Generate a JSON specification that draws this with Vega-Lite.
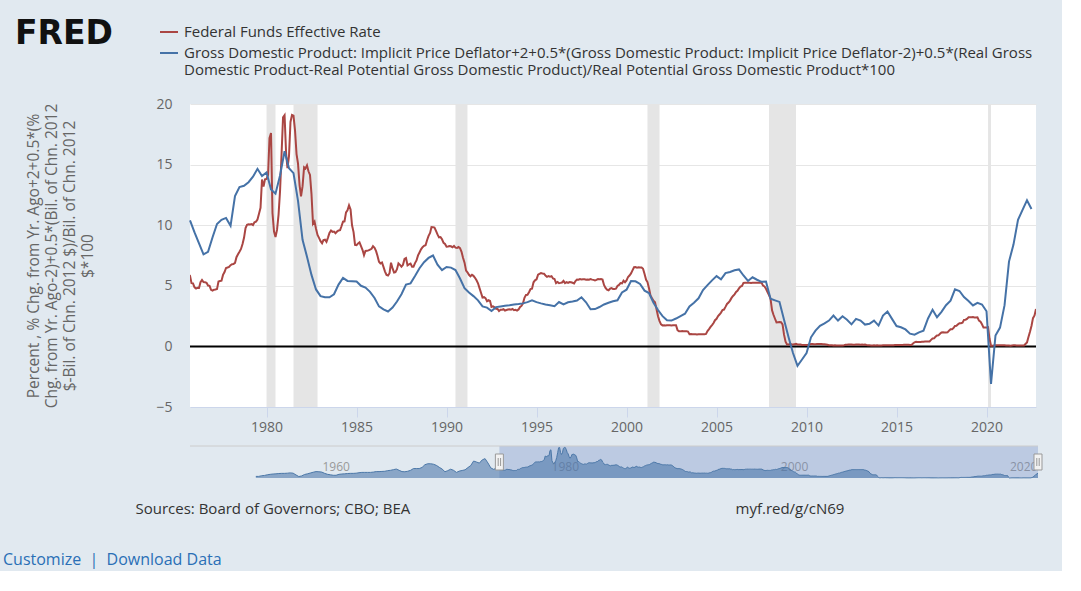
{
"$schema": "https://vega.github.io/schema/vega-lite/v6.json",
"background": "#e1e9f0",
"padding": {"left": 3, "top": 18, "right": 18, "bottom": 3},
"config": {"font": "Open Sans", "view": {"stroke": null}},
"datasets": {
"recessions": [
{"start":"1980-01-01","end":"1980-07-01"},
{"start":"1981-07-01","end":"1982-11-01"},
{"start":"1990-07-01","end":"1991-03-01"},
{"start":"2001-03-01","end":"2001-11-01"},
{"start":"2007-12-01","end":"2009-06-01"},
{"start":"2020-02-01","end":"2020-04-01"}
],
"gdprule": [
{"date":"1975-10-01","value":10.4},{"date":"1976-01-01","value":9.4},{"date":"1976-04-01","value":8.5},{"date":"1976-07-01","value":7.6},{"date":"1976-10-01","value":7.8},
{"date":"1977-01-01","value":9.0},{"date":"1977-04-01","value":10.1},{"date":"1977-07-01","value":10.45},{"date":"1977-10-01","value":10.6},
{"date":"1978-01-01","value":9.95},{"date":"1978-04-01","value":12.4},{"date":"1978-07-01","value":13.15},{"date":"1978-10-01","value":13.25},
{"date":"1979-01-01","value":13.55},{"date":"1979-04-01","value":14.0},{"date":"1979-07-01","value":14.65},{"date":"1979-10-01","value":14.05},
{"date":"1980-01-01","value":14.35},{"date":"1980-04-01","value":12.95},{"date":"1980-07-01","value":12.6},{"date":"1980-10-01","value":14.1},
{"date":"1981-01-01","value":16.1},{"date":"1981-04-01","value":14.7},{"date":"1981-07-01","value":14.3},{"date":"1981-10-01","value":12.0},
{"date":"1982-01-01","value":8.8},{"date":"1982-04-01","value":7.4},{"date":"1982-07-01","value":5.9},{"date":"1982-10-01","value":4.7},
{"date":"1983-01-01","value":4.15},{"date":"1983-04-01","value":4.05},{"date":"1983-07-01","value":4.05},{"date":"1983-10-01","value":4.3},
{"date":"1984-01-01","value":5.1},{"date":"1984-04-01","value":5.65},{"date":"1984-07-01","value":5.4},{"date":"1984-10-01","value":5.38},
{"date":"1985-01-01","value":5.35},{"date":"1985-04-01","value":5.0},{"date":"1985-07-01","value":4.85},{"date":"1985-10-01","value":4.5},
{"date":"1986-01-01","value":4.0},{"date":"1986-04-01","value":3.3},{"date":"1986-07-01","value":3.05},{"date":"1986-10-01","value":2.88},
{"date":"1987-01-01","value":3.2},{"date":"1987-04-01","value":3.7},{"date":"1987-07-01","value":4.3},{"date":"1987-10-01","value":5.1},
{"date":"1988-01-01","value":5.2},{"date":"1988-04-01","value":5.8},{"date":"1988-07-01","value":6.45},{"date":"1988-10-01","value":6.95},
{"date":"1989-01-01","value":7.3},{"date":"1989-04-01","value":7.5},{"date":"1989-07-01","value":6.75},{"date":"1989-10-01","value":6.3},
{"date":"1990-01-01","value":6.55},{"date":"1990-04-01","value":6.5},{"date":"1990-07-01","value":6.3},{"date":"1990-10-01","value":5.6},
{"date":"1991-01-01","value":4.8},{"date":"1991-04-01","value":4.45},{"date":"1991-07-01","value":4.15},{"date":"1991-10-01","value":3.8},
{"date":"1992-01-01","value":3.3},{"date":"1992-04-01","value":3.2},{"date":"1992-07-01","value":2.92},{"date":"1992-10-01","value":3.24},
{"date":"1993-01-01","value":3.3},{"date":"1993-04-01","value":3.35},{"date":"1993-07-01","value":3.4},{"date":"1993-10-01","value":3.46},
{"date":"1994-01-01","value":3.5},{"date":"1994-04-01","value":3.55},{"date":"1994-07-01","value":3.65},{"date":"1994-10-01","value":3.8},
{"date":"1995-01-01","value":3.65},{"date":"1995-04-01","value":3.55},{"date":"1995-07-01","value":3.46},{"date":"1995-10-01","value":3.4},
{"date":"1996-01-01","value":3.32},{"date":"1996-04-01","value":3.66},{"date":"1996-07-01","value":3.46},{"date":"1996-10-01","value":3.64},
{"date":"1997-01-01","value":3.7},{"date":"1997-04-01","value":3.78},{"date":"1997-07-01","value":4.05},{"date":"1997-10-01","value":3.64},
{"date":"1998-01-01","value":3.06},{"date":"1998-04-01","value":3.08},{"date":"1998-07-01","value":3.25},{"date":"1998-10-01","value":3.46},
{"date":"1999-01-01","value":3.6},{"date":"1999-04-01","value":3.72},{"date":"1999-07-01","value":3.8},{"date":"1999-10-01","value":4.45},
{"date":"2000-01-01","value":4.68},{"date":"2000-04-01","value":5.4},{"date":"2000-07-01","value":5.37},{"date":"2000-10-01","value":5.15},
{"date":"2001-01-01","value":4.6},{"date":"2001-04-01","value":4.4},{"date":"2001-07-01","value":3.6},{"date":"2001-10-01","value":3.0},
{"date":"2002-01-01","value":2.5},{"date":"2002-04-01","value":2.15},{"date":"2002-07-01","value":2.13},{"date":"2002-10-01","value":2.3},
{"date":"2003-01-01","value":2.5},{"date":"2003-04-01","value":2.7},{"date":"2003-07-01","value":3.3},{"date":"2003-10-01","value":3.6},
{"date":"2004-01-01","value":3.97},{"date":"2004-04-01","value":4.65},{"date":"2004-07-01","value":5.05},{"date":"2004-10-01","value":5.45},
{"date":"2005-01-01","value":5.8},{"date":"2005-04-01","value":5.54},{"date":"2005-07-01","value":6.05},{"date":"2005-10-01","value":6.14},
{"date":"2006-01-01","value":6.28},{"date":"2006-04-01","value":6.35},{"date":"2006-07-01","value":5.85},{"date":"2006-10-01","value":5.4},
{"date":"2007-01-01","value":5.7},{"date":"2007-04-01","value":5.5},{"date":"2007-07-01","value":5.33},{"date":"2007-10-01","value":5.35},
{"date":"2008-01-01","value":3.93},{"date":"2008-04-01","value":3.8},{"date":"2008-07-01","value":3.67},{"date":"2008-10-01","value":2.2},
{"date":"2009-01-01","value":0.75},{"date":"2009-04-01","value":-0.55},{"date":"2009-07-01","value":-1.6},{"date":"2009-10-01","value":-1.08},
{"date":"2010-01-01","value":-0.55},{"date":"2010-04-01","value":0.75},{"date":"2010-07-01","value":1.3},{"date":"2010-10-01","value":1.7},
{"date":"2011-01-01","value":1.9},{"date":"2011-04-01","value":2.13},{"date":"2011-07-01","value":2.55},{"date":"2011-10-01","value":2.13},
{"date":"2012-01-01","value":2.49},{"date":"2012-04-01","value":2.2},{"date":"2012-07-01","value":1.82},{"date":"2012-10-01","value":2.27},
{"date":"2013-01-01","value":2.13},{"date":"2013-04-01","value":1.8},{"date":"2013-07-01","value":1.86},{"date":"2013-10-01","value":2.13},
{"date":"2014-01-01","value":1.72},{"date":"2014-04-01","value":2.55},{"date":"2014-07-01","value":2.88},{"date":"2014-10-01","value":2.27},
{"date":"2015-01-01","value":1.68},{"date":"2015-04-01","value":1.58},{"date":"2015-07-01","value":1.4},{"date":"2015-10-01","value":1.05},
{"date":"2016-01-01","value":0.97},{"date":"2016-04-01","value":1.16},{"date":"2016-07-01","value":1.3},{"date":"2016-10-01","value":2.3},
{"date":"2017-01-01","value":3.02},{"date":"2017-04-01","value":2.41},{"date":"2017-07-01","value":2.85},{"date":"2017-10-01","value":3.4},
{"date":"2018-01-01","value":3.78},{"date":"2018-04-01","value":4.71},{"date":"2018-07-01","value":4.57},{"date":"2018-10-01","value":4.07},
{"date":"2019-01-01","value":3.75},{"date":"2019-04-01","value":3.38},{"date":"2019-07-01","value":3.6},{"date":"2019-10-01","value":3.46},
{"date":"2020-01-01","value":2.9},{"date":"2020-04-01","value":-3.1},{"date":"2020-07-01","value":0.9},{"date":"2020-10-01","value":1.55},
{"date":"2021-01-01","value":3.4},{"date":"2021-04-01","value":7.0},{"date":"2021-07-01","value":8.4},{"date":"2021-10-01","value":10.45},
{"date":"2022-01-01","value":11.27},{"date":"2022-04-01","value":12.05},{"date":"2022-07-01","value":11.33}
],
"fedfunds": [
{"date":"1954-07-01","value":1.0},{"date":"1954-10-01","value":1.0},
{"date":"1955-01-01","value":1.4},{"date":"1955-04-01","value":1.6},{"date":"1955-07-01","value":2.0},{"date":"1955-10-01","value":2.3},
{"date":"1956-01-01","value":2.5},{"date":"1956-04-01","value":2.6},{"date":"1956-07-01","value":2.8},{"date":"1956-10-01","value":2.9},
{"date":"1957-01-01","value":2.9},{"date":"1957-04-01","value":3.0},{"date":"1957-07-01","value":3.2},{"date":"1957-10-01","value":3.0},
{"date":"1958-01-01","value":1.9},{"date":"1958-04-01","value":0.9},{"date":"1958-07-01","value":1.3},{"date":"1958-10-01","value":2.2},
{"date":"1959-01-01","value":2.6},{"date":"1959-04-01","value":3.1},{"date":"1959-07-01","value":3.6},{"date":"1959-10-01","value":4.0},
{"date":"1960-01-01","value":3.9},{"date":"1960-04-01","value":3.7},{"date":"1960-07-01","value":2.9},{"date":"1960-10-01","value":2.3},
{"date":"1961-01-01","value":2.0},{"date":"1961-04-01","value":1.7},{"date":"1961-07-01","value":1.7},{"date":"1961-10-01","value":2.3},
{"date":"1962-01-01","value":2.5},{"date":"1962-04-01","value":2.6},{"date":"1962-07-01","value":2.8},{"date":"1962-10-01","value":2.9},
{"date":"1963-01-01","value":2.9},{"date":"1963-04-01","value":3.0},{"date":"1963-07-01","value":3.3},{"date":"1963-10-01","value":3.5},
{"date":"1964-01-01","value":3.5},{"date":"1964-04-01","value":3.5},{"date":"1964-07-01","value":3.5},{"date":"1964-10-01","value":3.7},
{"date":"1965-01-01","value":4.0},{"date":"1965-04-01","value":4.0},{"date":"1965-07-01","value":4.1},{"date":"1965-10-01","value":4.2},
{"date":"1966-01-01","value":4.6},{"date":"1966-04-01","value":4.8},{"date":"1966-07-01","value":5.2},{"date":"1966-10-01","value":5.6},
{"date":"1967-01-01","value":4.8},{"date":"1967-04-01","value":4.0},{"date":"1967-07-01","value":3.9},{"date":"1967-10-01","value":4.2},
{"date":"1968-01-01","value":4.8},{"date":"1968-04-01","value":5.9},{"date":"1968-07-01","value":5.9},{"date":"1968-10-01","value":5.9},
{"date":"1969-01-01","value":6.6},{"date":"1969-04-01","value":8.3},{"date":"1969-07-01","value":8.9},{"date":"1969-10-01","value":8.9},
{"date":"1970-01-01","value":8.6},{"date":"1970-04-01","value":7.9},{"date":"1970-07-01","value":6.7},{"date":"1970-10-01","value":5.6},
{"date":"1971-01-01","value":3.9},{"date":"1971-04-01","value":4.6},{"date":"1971-07-01","value":5.5},{"date":"1971-10-01","value":4.8},
{"date":"1972-01-01","value":3.5},{"date":"1972-04-01","value":4.3},{"date":"1972-07-01","value":4.7},{"date":"1972-10-01","value":5.1},
{"date":"1973-01-01","value":6.5},{"date":"1973-04-01","value":7.8},{"date":"1973-07-01","value":10.6},{"date":"1973-10-01","value":10.0},
{"date":"1974-01-01","value":9.3},{"date":"1974-04-01","value":11.3},{"date":"1974-07-01","value":12.1},{"date":"1974-10-01","value":9.4},
{"date":"1975-01-01","value":6.3},{"date":"1975-04-01","value":5.4},{"date":"1975-07-01","value":6.2},
{"date":"1975-10-01","value":5.82},{"date":"1975-11-01","value":5.22},{"date":"1975-12-01","value":5.20},
{"date":"1976-01-01","value":4.87},{"date":"1976-02-01","value":4.77},{"date":"1976-03-01","value":4.84},{"date":"1976-04-01","value":4.82},{"date":"1976-05-01","value":5.29},{"date":"1976-06-01","value":5.48},{"date":"1976-07-01","value":5.31},{"date":"1976-08-01","value":5.29},{"date":"1976-09-01","value":5.25},{"date":"1976-10-01","value":5.02},{"date":"1976-11-01","value":5.00},{"date":"1976-12-01","value":4.67},
{"date":"1977-01-01","value":4.61},{"date":"1977-02-01","value":4.68},{"date":"1977-03-01","value":4.69},{"date":"1977-04-01","value":4.73},{"date":"1977-05-01","value":5.35},{"date":"1977-06-01","value":5.39},{"date":"1977-07-01","value":5.42},{"date":"1977-08-01","value":5.90},{"date":"1977-09-01","value":6.14},{"date":"1977-10-01","value":6.47},{"date":"1977-11-01","value":6.51},{"date":"1977-12-01","value":6.56},
{"date":"1978-01-01","value":6.70},{"date":"1978-02-01","value":6.78},{"date":"1978-03-01","value":6.79},{"date":"1978-04-01","value":6.89},{"date":"1978-05-01","value":7.36},{"date":"1978-06-01","value":7.60},{"date":"1978-07-01","value":7.81},{"date":"1978-08-01","value":8.04},{"date":"1978-09-01","value":8.45},{"date":"1978-10-01","value":8.96},{"date":"1978-11-01","value":9.76},{"date":"1978-12-01","value":10.03},
{"date":"1979-01-01","value":10.07},{"date":"1979-02-01","value":10.06},{"date":"1979-03-01","value":10.09},{"date":"1979-04-01","value":10.01},{"date":"1979-05-01","value":10.24},{"date":"1979-06-01","value":10.29},{"date":"1979-07-01","value":10.47},{"date":"1979-08-01","value":10.94},{"date":"1979-09-01","value":11.43},{"date":"1979-10-01","value":13.77},{"date":"1979-11-01","value":13.18},{"date":"1979-12-01","value":13.78},
{"date":"1980-01-01","value":13.82},{"date":"1980-02-01","value":14.13},{"date":"1980-03-01","value":17.19},{"date":"1980-04-01","value":17.61},{"date":"1980-05-01","value":10.98},{"date":"1980-06-01","value":9.47},{"date":"1980-07-01","value":9.03},{"date":"1980-08-01","value":9.61},{"date":"1980-09-01","value":10.87},{"date":"1980-10-01","value":12.81},{"date":"1980-11-01","value":15.85},{"date":"1980-12-01","value":18.90},
{"date":"1981-01-01","value":19.08},{"date":"1981-02-01","value":15.93},{"date":"1981-03-01","value":14.70},{"date":"1981-04-01","value":15.72},{"date":"1981-05-01","value":18.52},{"date":"1981-06-01","value":19.10},{"date":"1981-07-01","value":19.04},{"date":"1981-08-01","value":17.82},{"date":"1981-09-01","value":15.87},{"date":"1981-10-01","value":15.08},{"date":"1981-11-01","value":13.31},{"date":"1981-12-01","value":12.37},
{"date":"1982-01-01","value":13.22},{"date":"1982-02-01","value":14.78},{"date":"1982-03-01","value":14.68},{"date":"1982-04-01","value":14.94},{"date":"1982-05-01","value":14.45},{"date":"1982-06-01","value":14.15},{"date":"1982-07-01","value":12.59},{"date":"1982-08-01","value":10.12},{"date":"1982-09-01","value":10.31},{"date":"1982-10-01","value":9.71},{"date":"1982-11-01","value":9.20},{"date":"1982-12-01","value":8.95},
{"date":"1983-01-01","value":8.68},{"date":"1983-02-01","value":8.51},{"date":"1983-03-01","value":8.77},{"date":"1983-04-01","value":8.80},{"date":"1983-05-01","value":8.63},{"date":"1983-06-01","value":8.98},{"date":"1983-07-01","value":9.37},{"date":"1983-08-01","value":9.56},{"date":"1983-09-01","value":9.45},{"date":"1983-10-01","value":9.48},{"date":"1983-11-01","value":9.34},{"date":"1983-12-01","value":9.47},
{"date":"1984-01-01","value":9.56},{"date":"1984-02-01","value":9.59},{"date":"1984-03-01","value":9.91},{"date":"1984-04-01","value":10.29},{"date":"1984-05-01","value":10.32},{"date":"1984-06-01","value":11.06},{"date":"1984-07-01","value":11.23},{"date":"1984-08-01","value":11.64},{"date":"1984-09-01","value":11.30},{"date":"1984-10-01","value":9.99},{"date":"1984-11-01","value":9.43},{"date":"1984-12-01","value":8.38},
{"date":"1985-01-01","value":8.35},{"date":"1985-02-01","value":8.50},{"date":"1985-03-01","value":8.58},{"date":"1985-04-01","value":8.27},{"date":"1985-05-01","value":7.97},{"date":"1985-06-01","value":7.53},{"date":"1985-07-01","value":7.88},{"date":"1985-08-01","value":7.90},{"date":"1985-09-01","value":7.92},{"date":"1985-10-01","value":7.99},{"date":"1985-11-01","value":8.05},{"date":"1985-12-01","value":8.27},
{"date":"1986-01-01","value":8.14},{"date":"1986-02-01","value":7.86},{"date":"1986-03-01","value":7.48},{"date":"1986-04-01","value":6.99},{"date":"1986-05-01","value":6.85},{"date":"1986-06-01","value":6.92},{"date":"1986-07-01","value":6.56},{"date":"1986-08-01","value":6.17},{"date":"1986-09-01","value":5.89},{"date":"1986-10-01","value":5.85},{"date":"1986-11-01","value":6.04},{"date":"1986-12-01","value":6.91},
{"date":"1987-01-01","value":6.43},{"date":"1987-02-01","value":6.10},{"date":"1987-03-01","value":6.13},{"date":"1987-04-01","value":6.37},{"date":"1987-05-01","value":6.85},{"date":"1987-06-01","value":6.73},{"date":"1987-07-01","value":6.58},{"date":"1987-08-01","value":6.73},{"date":"1987-09-01","value":7.22},{"date":"1987-10-01","value":7.29},{"date":"1987-11-01","value":6.69},{"date":"1987-12-01","value":6.77},
{"date":"1988-01-01","value":6.83},{"date":"1988-02-01","value":6.58},{"date":"1988-03-01","value":6.58},{"date":"1988-04-01","value":6.87},{"date":"1988-05-01","value":7.09},{"date":"1988-06-01","value":7.51},{"date":"1988-07-01","value":7.75},{"date":"1988-08-01","value":8.01},{"date":"1988-09-01","value":8.19},{"date":"1988-10-01","value":8.30},{"date":"1988-11-01","value":8.35},{"date":"1988-12-01","value":8.76},
{"date":"1989-01-01","value":9.12},{"date":"1989-02-01","value":9.36},{"date":"1989-03-01","value":9.85},{"date":"1989-04-01","value":9.84},{"date":"1989-05-01","value":9.81},{"date":"1989-06-01","value":9.53},{"date":"1989-07-01","value":9.24},{"date":"1989-08-01","value":8.99},{"date":"1989-09-01","value":9.02},{"date":"1989-10-01","value":8.84},{"date":"1989-11-01","value":8.55},{"date":"1989-12-01","value":8.45},
{"date":"1990-01-01","value":8.23},{"date":"1990-02-01","value":8.24},{"date":"1990-03-01","value":8.28},{"date":"1990-04-01","value":8.26},{"date":"1990-05-01","value":8.18},{"date":"1990-06-01","value":8.29},{"date":"1990-07-01","value":8.15},{"date":"1990-08-01","value":8.13},{"date":"1990-09-01","value":8.20},{"date":"1990-10-01","value":8.11},{"date":"1990-11-01","value":7.81},{"date":"1990-12-01","value":7.31},
{"date":"1991-01-01","value":6.91},{"date":"1991-02-01","value":6.25},{"date":"1991-03-01","value":6.12},{"date":"1991-04-01","value":5.91},{"date":"1991-05-01","value":5.78},{"date":"1991-06-01","value":5.90},{"date":"1991-07-01","value":5.82},{"date":"1991-08-01","value":5.66},{"date":"1991-09-01","value":5.45},{"date":"1991-10-01","value":5.21},{"date":"1991-11-01","value":4.81},{"date":"1991-12-01","value":4.43},
{"date":"1992-01-01","value":4.03},{"date":"1992-02-01","value":4.06},{"date":"1992-03-01","value":3.98},{"date":"1992-04-01","value":3.73},{"date":"1992-05-01","value":3.82},{"date":"1992-06-01","value":3.76},{"date":"1992-07-01","value":3.25},{"date":"1992-08-01","value":3.30},{"date":"1992-09-01","value":3.22},{"date":"1992-10-01","value":3.10},{"date":"1992-11-01","value":3.09},{"date":"1992-12-01","value":2.92},
{"date":"1993-01-01","value":3.02},{"date":"1993-02-01","value":3.03},{"date":"1993-03-01","value":3.07},{"date":"1993-04-01","value":2.96},{"date":"1993-05-01","value":3.00},{"date":"1993-06-01","value":3.04},{"date":"1993-07-01","value":3.06},{"date":"1993-08-01","value":3.03},{"date":"1993-09-01","value":3.09},{"date":"1993-10-01","value":2.99},{"date":"1993-11-01","value":3.02},{"date":"1993-12-01","value":2.96},
{"date":"1994-01-01","value":3.05},{"date":"1994-02-01","value":3.25},{"date":"1994-03-01","value":3.34},{"date":"1994-04-01","value":3.56},{"date":"1994-05-01","value":4.01},{"date":"1994-06-01","value":4.25},{"date":"1994-07-01","value":4.26},{"date":"1994-08-01","value":4.47},{"date":"1994-09-01","value":4.73},{"date":"1994-10-01","value":4.76},{"date":"1994-11-01","value":5.29},{"date":"1994-12-01","value":5.45},
{"date":"1995-01-01","value":5.53},{"date":"1995-02-01","value":5.92},{"date":"1995-03-01","value":5.98},{"date":"1995-04-01","value":6.05},{"date":"1995-05-01","value":6.01},{"date":"1995-06-01","value":6.00},{"date":"1995-07-01","value":5.85},{"date":"1995-08-01","value":5.74},{"date":"1995-09-01","value":5.80},{"date":"1995-10-01","value":5.76},{"date":"1995-11-01","value":5.80},{"date":"1995-12-01","value":5.60},
{"date":"1996-01-01","value":5.56},{"date":"1996-02-01","value":5.22},{"date":"1996-03-01","value":5.31},{"date":"1996-04-01","value":5.22},{"date":"1996-05-01","value":5.24},{"date":"1996-06-01","value":5.27},{"date":"1996-07-01","value":5.40},{"date":"1996-08-01","value":5.22},{"date":"1996-09-01","value":5.30},{"date":"1996-10-01","value":5.24},{"date":"1996-11-01","value":5.31},{"date":"1996-12-01","value":5.29},
{"date":"1997-01-01","value":5.25},{"date":"1997-02-01","value":5.19},{"date":"1997-03-01","value":5.39},{"date":"1997-04-01","value":5.51},{"date":"1997-05-01","value":5.50},{"date":"1997-06-01","value":5.56},{"date":"1997-07-01","value":5.52},{"date":"1997-08-01","value":5.54},{"date":"1997-09-01","value":5.54},{"date":"1997-10-01","value":5.50},{"date":"1997-11-01","value":5.52},{"date":"1997-12-01","value":5.50},
{"date":"1998-01-01","value":5.56},{"date":"1998-02-01","value":5.51},{"date":"1998-03-01","value":5.49},{"date":"1998-04-01","value":5.45},{"date":"1998-05-01","value":5.49},{"date":"1998-06-01","value":5.56},{"date":"1998-07-01","value":5.54},{"date":"1998-08-01","value":5.55},{"date":"1998-09-01","value":5.51},{"date":"1998-10-01","value":5.07},{"date":"1998-11-01","value":4.83},{"date":"1998-12-01","value":4.68},
{"date":"1999-01-01","value":4.63},{"date":"1999-02-01","value":4.76},{"date":"1999-03-01","value":4.81},{"date":"1999-04-01","value":4.74},{"date":"1999-05-01","value":4.74},{"date":"1999-06-01","value":4.76},{"date":"1999-07-01","value":4.99},{"date":"1999-08-01","value":5.07},{"date":"1999-09-01","value":5.22},{"date":"1999-10-01","value":5.20},{"date":"1999-11-01","value":5.42},{"date":"1999-12-01","value":5.30},
{"date":"2000-01-01","value":5.45},{"date":"2000-02-01","value":5.73},{"date":"2000-03-01","value":5.85},{"date":"2000-04-01","value":6.02},{"date":"2000-05-01","value":6.27},{"date":"2000-06-01","value":6.53},{"date":"2000-07-01","value":6.54},{"date":"2000-08-01","value":6.50},{"date":"2000-09-01","value":6.52},{"date":"2000-10-01","value":6.51},{"date":"2000-11-01","value":6.51},{"date":"2000-12-01","value":6.40},
{"date":"2001-01-01","value":5.98},{"date":"2001-02-01","value":5.49},{"date":"2001-03-01","value":5.31},{"date":"2001-04-01","value":4.80},{"date":"2001-05-01","value":4.21},{"date":"2001-06-01","value":3.97},{"date":"2001-07-01","value":3.77},{"date":"2001-08-01","value":3.65},{"date":"2001-09-01","value":3.07},{"date":"2001-10-01","value":2.49},{"date":"2001-11-01","value":2.09},{"date":"2001-12-01","value":1.82},
{"date":"2002-01-01","value":1.73},{"date":"2002-02-01","value":1.74},{"date":"2002-03-01","value":1.73},{"date":"2002-04-01","value":1.75},{"date":"2002-05-01","value":1.75},{"date":"2002-06-01","value":1.75},{"date":"2002-07-01","value":1.73},{"date":"2002-08-01","value":1.74},{"date":"2002-09-01","value":1.75},{"date":"2002-10-01","value":1.75},{"date":"2002-11-01","value":1.34},{"date":"2002-12-01","value":1.24},
{"date":"2003-01-01","value":1.24},{"date":"2003-02-01","value":1.26},{"date":"2003-03-01","value":1.25},{"date":"2003-04-01","value":1.26},{"date":"2003-05-01","value":1.26},{"date":"2003-06-01","value":1.22},{"date":"2003-07-01","value":1.01},{"date":"2003-08-01","value":1.03},{"date":"2003-09-01","value":1.01},{"date":"2003-10-01","value":1.01},{"date":"2003-11-01","value":1.00},{"date":"2003-12-01","value":0.98},
{"date":"2004-01-01","value":1.00},{"date":"2004-02-01","value":1.01},{"date":"2004-03-01","value":1.00},{"date":"2004-04-01","value":1.00},{"date":"2004-05-01","value":1.00},{"date":"2004-06-01","value":1.03},{"date":"2004-07-01","value":1.26},{"date":"2004-08-01","value":1.43},{"date":"2004-09-01","value":1.61},{"date":"2004-10-01","value":1.76},{"date":"2004-11-01","value":1.93},{"date":"2004-12-01","value":2.16},
{"date":"2005-01-01","value":2.28},{"date":"2005-02-01","value":2.50},{"date":"2005-03-01","value":2.63},{"date":"2005-04-01","value":2.79},{"date":"2005-05-01","value":3.00},{"date":"2005-06-01","value":3.04},{"date":"2005-07-01","value":3.26},{"date":"2005-08-01","value":3.50},{"date":"2005-09-01","value":3.62},{"date":"2005-10-01","value":3.78},{"date":"2005-11-01","value":4.00},{"date":"2005-12-01","value":4.16},
{"date":"2006-01-01","value":4.29},{"date":"2006-02-01","value":4.49},{"date":"2006-03-01","value":4.59},{"date":"2006-04-01","value":4.79},{"date":"2006-05-01","value":4.94},{"date":"2006-06-01","value":4.99},{"date":"2006-07-01","value":5.24},{"date":"2006-08-01","value":5.25},{"date":"2006-09-01","value":5.25},{"date":"2006-10-01","value":5.25},{"date":"2006-11-01","value":5.25},{"date":"2006-12-01","value":5.24},
{"date":"2007-01-01","value":5.25},{"date":"2007-02-01","value":5.26},{"date":"2007-03-01","value":5.26},{"date":"2007-04-01","value":5.25},{"date":"2007-05-01","value":5.25},{"date":"2007-06-01","value":5.25},{"date":"2007-07-01","value":5.26},{"date":"2007-08-01","value":5.02},{"date":"2007-09-01","value":4.94},{"date":"2007-10-01","value":4.76},{"date":"2007-11-01","value":4.49},{"date":"2007-12-01","value":4.24},
{"date":"2008-01-01","value":3.94},{"date":"2008-02-01","value":2.98},{"date":"2008-03-01","value":2.61},{"date":"2008-04-01","value":2.28},{"date":"2008-05-01","value":1.98},{"date":"2008-06-01","value":2.00},{"date":"2008-07-01","value":2.01},{"date":"2008-08-01","value":2.00},{"date":"2008-09-01","value":1.81},{"date":"2008-10-01","value":0.97},{"date":"2008-11-01","value":0.39},{"date":"2008-12-01","value":0.16},
{"date":"2009-01-01","value":0.15},{"date":"2009-02-01","value":0.22},{"date":"2009-03-01","value":0.18},{"date":"2009-04-01","value":0.15},{"date":"2009-05-01","value":0.18},{"date":"2009-06-01","value":0.21},{"date":"2009-07-01","value":0.16},{"date":"2009-08-01","value":0.16},{"date":"2009-09-01","value":0.15},{"date":"2009-10-01","value":0.12},{"date":"2009-11-01","value":0.12},{"date":"2009-12-01","value":0.12},
{"date":"2010-01-01","value":0.11},{"date":"2010-02-01","value":0.13},{"date":"2010-03-01","value":0.16},{"date":"2010-04-01","value":0.20},{"date":"2010-05-01","value":0.20},{"date":"2010-06-01","value":0.18},{"date":"2010-07-01","value":0.18},{"date":"2010-08-01","value":0.19},{"date":"2010-09-01","value":0.19},{"date":"2010-10-01","value":0.19},{"date":"2010-11-01","value":0.19},{"date":"2010-12-01","value":0.18},
{"date":"2011-01-01","value":0.17},{"date":"2011-02-01","value":0.16},{"date":"2011-03-01","value":0.14},{"date":"2011-04-01","value":0.10},{"date":"2011-05-01","value":0.09},{"date":"2011-06-01","value":0.09},{"date":"2011-07-01","value":0.07},{"date":"2011-08-01","value":0.10},{"date":"2011-09-01","value":0.08},{"date":"2011-10-01","value":0.07},{"date":"2011-11-01","value":0.08},{"date":"2011-12-01","value":0.07},
{"date":"2012-01-01","value":0.08},{"date":"2012-02-01","value":0.10},{"date":"2012-03-01","value":0.13},{"date":"2012-04-01","value":0.14},{"date":"2012-05-01","value":0.16},{"date":"2012-06-01","value":0.16},{"date":"2012-07-01","value":0.16},{"date":"2012-08-01","value":0.13},{"date":"2012-09-01","value":0.14},{"date":"2012-10-01","value":0.16},{"date":"2012-11-01","value":0.16},{"date":"2012-12-01","value":0.16},
{"date":"2013-01-01","value":0.14},{"date":"2013-02-01","value":0.15},{"date":"2013-03-01","value":0.14},{"date":"2013-04-01","value":0.15},{"date":"2013-05-01","value":0.11},{"date":"2013-06-01","value":0.09},{"date":"2013-07-01","value":0.09},{"date":"2013-08-01","value":0.08},{"date":"2013-09-01","value":0.08},{"date":"2013-10-01","value":0.09},{"date":"2013-11-01","value":0.08},{"date":"2013-12-01","value":0.09},
{"date":"2014-01-01","value":0.07},{"date":"2014-02-01","value":0.07},{"date":"2014-03-01","value":0.08},{"date":"2014-04-01","value":0.09},{"date":"2014-05-01","value":0.09},{"date":"2014-06-01","value":0.10},{"date":"2014-07-01","value":0.09},{"date":"2014-08-01","value":0.09},{"date":"2014-09-01","value":0.09},{"date":"2014-10-01","value":0.09},{"date":"2014-11-01","value":0.09},{"date":"2014-12-01","value":0.12},
{"date":"2015-01-01","value":0.11},{"date":"2015-02-01","value":0.11},{"date":"2015-03-01","value":0.11},{"date":"2015-04-01","value":0.12},{"date":"2015-05-01","value":0.12},{"date":"2015-06-01","value":0.13},{"date":"2015-07-01","value":0.13},{"date":"2015-08-01","value":0.14},{"date":"2015-09-01","value":0.14},{"date":"2015-10-01","value":0.12},{"date":"2015-11-01","value":0.12},{"date":"2015-12-01","value":0.24},
{"date":"2016-01-01","value":0.34},{"date":"2016-02-01","value":0.38},{"date":"2016-03-01","value":0.36},{"date":"2016-04-01","value":0.37},{"date":"2016-05-01","value":0.37},{"date":"2016-06-01","value":0.38},{"date":"2016-07-01","value":0.39},{"date":"2016-08-01","value":0.40},{"date":"2016-09-01","value":0.40},{"date":"2016-10-01","value":0.40},{"date":"2016-11-01","value":0.41},{"date":"2016-12-01","value":0.54},
{"date":"2017-01-01","value":0.65},{"date":"2017-02-01","value":0.66},{"date":"2017-03-01","value":0.79},{"date":"2017-04-01","value":0.90},{"date":"2017-05-01","value":0.91},{"date":"2017-06-01","value":1.04},{"date":"2017-07-01","value":1.15},{"date":"2017-08-01","value":1.16},{"date":"2017-09-01","value":1.15},{"date":"2017-10-01","value":1.15},{"date":"2017-11-01","value":1.16},{"date":"2017-12-01","value":1.30},
{"date":"2018-01-01","value":1.41},{"date":"2018-02-01","value":1.42},{"date":"2018-03-01","value":1.51},{"date":"2018-04-01","value":1.69},{"date":"2018-05-01","value":1.70},{"date":"2018-06-01","value":1.82},{"date":"2018-07-01","value":1.91},{"date":"2018-08-01","value":1.91},{"date":"2018-09-01","value":1.95},{"date":"2018-10-01","value":2.19},{"date":"2018-11-01","value":2.20},{"date":"2018-12-01","value":2.27},
{"date":"2019-01-01","value":2.40},{"date":"2019-02-01","value":2.40},{"date":"2019-03-01","value":2.41},{"date":"2019-04-01","value":2.42},{"date":"2019-05-01","value":2.39},{"date":"2019-06-01","value":2.38},{"date":"2019-07-01","value":2.40},{"date":"2019-08-01","value":2.13},{"date":"2019-09-01","value":2.04},{"date":"2019-10-01","value":1.83},{"date":"2019-11-01","value":1.55},{"date":"2019-12-01","value":1.55},
{"date":"2020-01-01","value":1.55},{"date":"2020-02-01","value":1.58},{"date":"2020-03-01","value":0.65},{"date":"2020-04-01","value":0.05},{"date":"2020-05-01","value":0.05},{"date":"2020-06-01","value":0.08},{"date":"2020-07-01","value":0.09},{"date":"2020-08-01","value":0.10},{"date":"2020-09-01","value":0.09},{"date":"2020-10-01","value":0.09},{"date":"2020-11-01","value":0.09},{"date":"2020-12-01","value":0.09},
{"date":"2021-01-01","value":0.09},{"date":"2021-02-01","value":0.08},{"date":"2021-03-01","value":0.07},{"date":"2021-04-01","value":0.07},{"date":"2021-05-01","value":0.06},{"date":"2021-06-01","value":0.08},{"date":"2021-07-01","value":0.10},{"date":"2021-08-01","value":0.09},{"date":"2021-09-01","value":0.08},{"date":"2021-10-01","value":0.08},{"date":"2021-11-01","value":0.08},{"date":"2021-12-01","value":0.08},
{"date":"2022-01-01","value":0.08},{"date":"2022-02-01","value":0.08},{"date":"2022-03-01","value":0.20},{"date":"2022-04-01","value":0.33},{"date":"2022-05-01","value":0.77},{"date":"2022-06-01","value":1.21},{"date":"2022-07-01","value":1.68},{"date":"2022-08-01","value":2.33},{"date":"2022-09-01","value":2.56},{"date":"2022-10-01","value":3.08}
]
},
"resolve": {"scale": {"color": "independent"}},
"bounds": "flush",
"spacing": 39,
"vconcat": [
{
"width": 846,
"height": 303,
"view": {"fill": "white", "stroke": null},
"title": {"text": "FRED", "orient": "top", "anchor": "start", "frame": "group", "font": "DejaVu Sans", "fontSize": 33, "fontWeight": "bold", "color": "#111111", "dx": -175, "offset": -29},
"layer": [
{
"data": {"name": "recessions"},
"mark": {"type": "rect", "color": "#e5e5e5"},
"encoding": {
"x": {"field": "start", "type": "temporal", "title": null,
"scale": {"domain": [{"year": 1975, "month": 10, "date": 1, "utc": true}, {"year": 2022, "month": 10, "date": 1, "utc": true}]},
"axis": {"tickCount": {"interval": "year", "step": 5}, "format": "%Y", "grid": false, "domainColor": "#ccd6eb", "tickColor": "#ccd6eb", "tickSize": 10, "labelFontSize": 14, "labelColor": "#666666", "labelPadding": 3, "labelFlush": false}},
"x2": {"field": "end"}
}
},
{
"data": {"values": [{}]},
"mark": {"type": "rule", "color": "#000000", "strokeWidth": 2},
"encoding": {"y": {"datum": 0}}
},
{
"data": {"name": "fedfunds"},
"mark": {"type": "line", "strokeWidth": 2, "clip": true},
"encoding": {
"x": {"field": "date", "type": "temporal", "title": null},
"y": {"field": "value", "type": "quantitative",
"scale": {"domain": [-5, 20], "nice": false},
"axis": {"values": [-5, 0, 5, 10, 15, 20], "grid": true, "gridColor": "#e6e6e6", "domain": false, "ticks": false, "labelPadding": 18, "labelFontSize": 14, "labelColor": "#666666",
"title": ["Percent , % Chg. from Yr. Ago+2+0.5*(%", "Chg. from Yr. Ago-2)+0.5*(Bil. of Chn. 2012", "$-Bil. of Chn. 2012 $)/Bil. of Chn. 2012", "$*100"],
"titleFontSize": 15.5, "titleFontWeight": "normal", "titleColor": "#666666", "titlePadding": 60, "titleLineHeight": 18}},
"color": {"datum": "Federal Funds Effective Rate",
"scale": {"domain": ["Federal Funds Effective Rate", "Gross Domestic Product: Implicit Price Deflator+2+0.5*(Gross Domestic Product: Implicit Price Deflator-2)+0.5*(Real Gross Domestic Product-Real Potential Gross Domestic Product)/Real Potential Gross Domestic Product*100"], "range": ["#aa4643", "#4572a7"]},
"legend": {"orient": "none", "legendX": -31, "legendY": -82, "title": null, "symbolType": "stroke", "symbolSize": 324, "symbolStrokeWidth": 2, "labelFontSize": 15, "labelColor": "#333333", "labelLimit": 2000, "labelOffset": 5, "rowPadding": 3, "padding": 0,
"encoding": {"labels": {"update": {"lineHeight": {"value": 22}}}},
"labelExpr": "datum.label == 'Federal Funds Effective Rate' ? datum.label : ['Gross Domestic Product: Implicit Price Deflator+2+0.5*(Gross Domestic Product: Implicit Price Deflator-2)+0.5*(Real Gross', 'Domestic Product-Real Potential Gross Domestic Product)/Real Potential Gross Domestic Product*100']"}}
}
},
{
"data": {"name": "gdprule"},
"mark": {"type": "line", "strokeWidth": 2},
"encoding": {
"x": {"field": "date", "type": "temporal"},
"y": {"field": "value", "type": "quantitative"},
"color": {"datum": "Gross Domestic Product: Implicit Price Deflator+2+0.5*(Gross Domestic Product: Implicit Price Deflator-2)+0.5*(Real Gross Domestic Product-Real Potential Gross Domestic Product)/Real Potential Gross Domestic Product*100"}
}
}
]
},
{
"width": 848,
"height": 32,
"view": {"stroke": null},
"title": {"text": "Customize\u00a0 |\u00a0 Download Data", "orient": "bottom", "anchor": "start", "frame": "group", "dx": -187, "offset": 36, "fontSize": 16, "fontWeight": "normal", "color": "#2a6fb6"},
"layer": [
{
"data": {"values": [{"start": "1975-10-01", "end": "2022-10-01"}]},
"mark": {"type": "rect", "color": "#6685c2", "opacity": 0.3},
"encoding": {
"x": {"field": "start", "type": "temporal",
"scale": {"domain": [{"year": 1948, "month": 10, "date": 1, "utc": true}, {"year": 2022, "month": 10, "date": 1, "utc": true}]},
"axis": {"values": [{"year": 1960, "utc": true}, {"year": 1980, "utc": true}, {"year": 2000, "utc": true}, {"year": 2020, "utc": true}], "format": "%Y", "labelAlign": "left", "labelOffset": 3, "labelPadding": -17, "labelColor": "#999999", "labelFontSize": 12, "labelFlush": false, "ticks": false, "domain": false, "grid": false,
"title": "myf.red/g/cN69", "titleX": 545, "titleY": 35, "titleAlign": "left", "titleBaseline": "alphabetic", "titleFontSize": 15, "titleFontWeight": "normal", "titleColor": "#333333"}},
"x2": {"field": "end"}
}
},
{
"data": {"name": "fedfunds"},
"mark": {"type": "area", "color": "#4572a7", "fillOpacity": 0.56, "line": {"strokeWidth": 1}},
"encoding": {
"x": {"field": "date", "type": "temporal"},
"y": {"field": "value", "type": "quantitative", "scale": {"domain": [0, 20], "nice": false},
"axis": {"labels": false, "ticks": false, "domain": false, "grid": false, "title": "Sources: Board of Governors; CBO; BEA", "titleAngle": 0, "titleX": -55, "titleY": 67, "titleAlign": "left", "titleBaseline": "alphabetic", "titleFontSize": 15, "titleFontWeight": "normal", "titleColor": "#333333"}}
}
},
{
"data": {"values": [{}]},
"mark": {"type": "rule", "color": "#cccccc"},
"encoding": {"y": {"datum": 20}}
},
{
"data": {"values": [{"date": "1975-10-01"}, {"date": "2022-10-01"}]},
"mark": {"type": "point", "shape": "M-0.5,-1H0.5V1H-0.5Z M-0.15,-0.5V0.5 M0.15,-0.5V0.5", "size": 256, "filled": true, "fill": "#f2f2f2", "stroke": "#999999", "strokeWidth": 1, "opacity": 1},
"encoding": {"x": {"field": "date", "type": "temporal"}}
}
]
}
]
}
